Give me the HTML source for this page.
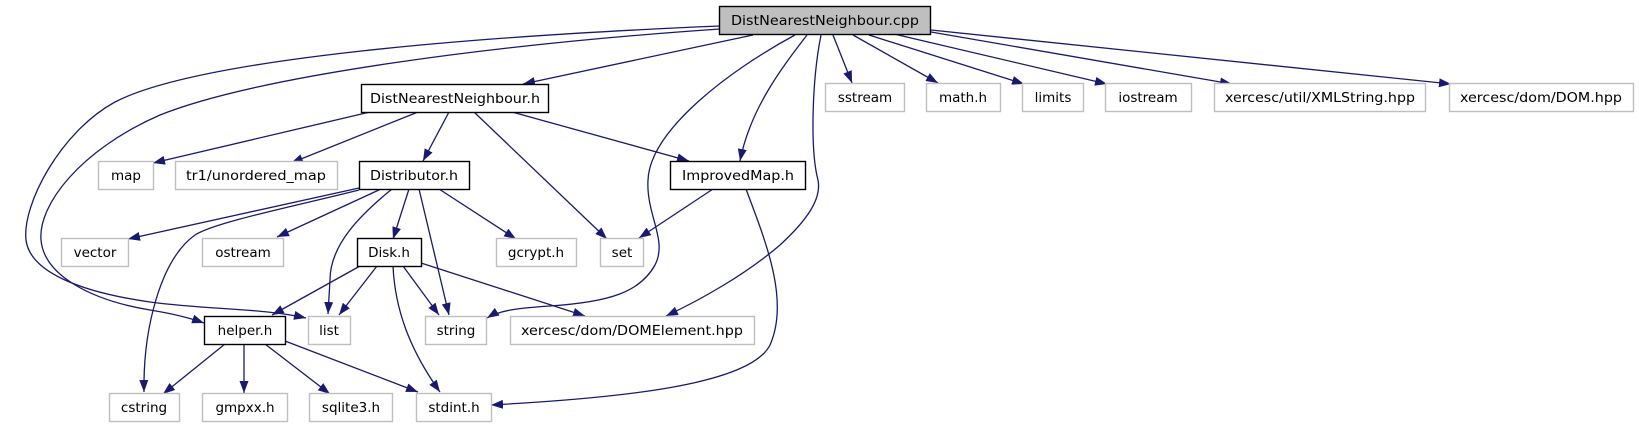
<!DOCTYPE html>
<html><head><meta charset="utf-8"><style>
html,body{margin:0;padding:0;background:#fff;}
svg{display:block;}
text{font-family:"DejaVu Sans","Liberation Sans",sans-serif;font-size:13.5px;fill:#000;}
.b{fill:#fff;stroke:#000;stroke-width:1.4;}
.g{fill:#fff;stroke:#bfbfbf;stroke-width:1.4;}
.e{fill:none;stroke:#191970;stroke-width:1.3;}
</style></head><body>
<svg width="1639" height="427" viewBox="0 0 1639 427" xmlns="http://www.w3.org/2000/svg">
<defs>
<marker id="a" viewBox="0 0 12 9" refX="12" refY="4.5" markerWidth="12" markerHeight="9" markerUnits="userSpaceOnUse" orient="auto">
<path d="M0,0 L12,4.5 L0,9 z" fill="#191970"/>
</marker>
</defs>
<g class="e" marker-end="url(#a)">
<path d="M753,35 L523,84"/>
<path d="M720,26 C480,36 200,58 115,102 C60,132 22,205 26,240 C30,272 80,292 150,302 C210,310 262,308 306,318"/>
<path d="M720,29 C500,44 260,75 160,115 C80,150 38,205 41,240 C44,275 90,300 150,310 C175,314 190,318 204,323"/>
<path d="M795,35 C730,70 650,130 648,180 C646,215 668,240 655,265 C640,292 610,302 550,306 C520,308 500,310 487,318"/>
<path d="M807,35 C780,70 750,110 740,161"/>
<path d="M821,35 C812,80 810,150 818,180 C822,200 805,222 780,245 C745,275 700,300 666,316"/>
<path d="M833,35 L852,83"/>
<path d="M853,35 L938,83"/>
<path d="M869,35 L1024,84"/>
<path d="M894,34 L1107,84"/>
<path d="M931,32 L1232,84"/>
<path d="M931,30 L1451,84"/>
<path d="M370,112 L153,163"/>
<path d="M418,112 L291,163"/>
<path d="M449,112 L423,161"/>
<path d="M474,112 L607,239"/>
<path d="M512,112 L689,161"/>
<path d="M713,189 L639,238"/>
<path d="M746,189 C765,240 790,300 770,345 C750,385 620,398 491,405"/>
<path d="M359,188 L128,239"/>
<path d="M359,190 C300,205 215,222 195,235 C160,260 143,330 144,392"/>
<path d="M381,189 L277,237"/>
<path d="M392,189 C360,215 330,245 330,280 L328,314"/>
<path d="M409,189 L393,239"/>
<path d="M419,189 L449,315"/>
<path d="M439,189 L516,239"/>
<path d="M360,266 L272,315"/>
<path d="M377,266 L339,315"/>
<path d="M403,266 L439,315"/>
<path d="M393,266 C395,310 410,350 440,392"/>
<path d="M421,263 L585,316"/>
<path d="M225,344 L163,394"/>
<path d="M244,344 L244,393"/>
<path d="M265,344 L330,394"/>
<path d="M285,341 L418,392"/>
</g>
<rect x="719.5" y="6.5" width="211" height="28" fill="#bfbfbf" stroke="#000" stroke-width="1.4"/>
<text x="825" y="25" text-anchor="middle" textLength="188" lengthAdjust="spacingAndGlyphs">DistNearestNeighbour.cpp</text>

<rect class="b" x="361.5" y="84.5" width="187" height="28"/>
<text x="455" y="103" text-anchor="middle" textLength="170" lengthAdjust="spacingAndGlyphs">DistNearestNeighbour.h</text>

<rect class="g" x="825.5" y="83.5" width="79" height="28"/><text x="865" y="102" text-anchor="middle">sstream</text>
<rect class="g" x="926.5" y="83.5" width="74" height="28"/><text x="963" y="102" text-anchor="middle">math.h</text>
<rect class="g" x="1022.5" y="83.5" width="61" height="28"/><text x="1053" y="102" text-anchor="middle">limits</text>
<rect class="g" x="1105.5" y="83.5" width="86" height="28"/><text x="1148" y="102" text-anchor="middle">iostream</text>
<rect class="g" x="1214.5" y="83.5" width="211" height="28"/><text x="1320" y="102" text-anchor="middle" textLength="190" lengthAdjust="spacingAndGlyphs">xercesc/util/XMLString.hpp</text>
<rect class="g" x="1449.5" y="83.5" width="184" height="28"/><text x="1541" y="102" text-anchor="middle" textLength="162" lengthAdjust="spacingAndGlyphs">xercesc/dom/DOM.hpp</text>

<rect class="g" x="98.5" y="161.5" width="55" height="28"/><text x="126" y="180" text-anchor="middle">map</text>
<rect class="g" x="175.5" y="161.5" width="162" height="28"/><text x="256" y="180" text-anchor="middle" textLength="140" lengthAdjust="spacingAndGlyphs">tr1/unordered_map</text>
<rect class="b" x="359.5" y="161.5" width="110" height="28"/><text x="414" y="180" text-anchor="middle" textLength="88" lengthAdjust="spacingAndGlyphs">Distributor.h</text>
<rect class="b" x="670.5" y="161.5" width="135" height="28"/><text x="738" y="180" text-anchor="middle" textLength="112" lengthAdjust="spacingAndGlyphs">ImprovedMap.h</text>

<rect class="g" x="61.5" y="238.5" width="67" height="28"/><text x="95" y="257" text-anchor="middle">vector</text>
<rect class="g" x="202.5" y="238.5" width="81" height="28"/><text x="243" y="257" text-anchor="middle">ostream</text>
<rect class="b" x="357.5" y="238.5" width="64" height="28"/><text x="389" y="257" text-anchor="middle">Disk.h</text>
<rect class="g" x="496.5" y="238.5" width="80" height="28"/><text x="536" y="257" text-anchor="middle">gcrypt.h</text>
<rect class="g" x="600.5" y="238.5" width="43" height="28"/><text x="622" y="257" text-anchor="middle">set</text>

<rect class="b" x="204.5" y="316.5" width="81" height="28"/><text x="245" y="335" text-anchor="middle">helper.h</text>
<rect class="g" x="308.5" y="316.5" width="42" height="28"/><text x="329" y="335" text-anchor="middle">list</text>
<rect class="g" x="425.5" y="316.5" width="61" height="28"/><text x="456" y="335" text-anchor="middle">string</text>
<rect class="g" x="510.5" y="316.5" width="244" height="28"/><text x="632" y="335" text-anchor="middle" textLength="222" lengthAdjust="spacingAndGlyphs">xercesc/dom/DOMElement.hpp</text>

<rect class="g" x="109.5" y="393.5" width="70" height="28"/><text x="144" y="412" text-anchor="middle">cstring</text>
<rect class="g" x="202.5" y="393.5" width="85" height="28"/><text x="245" y="412" text-anchor="middle">gmpxx.h</text>
<rect class="g" x="309.5" y="393.5" width="83" height="28"/><text x="351" y="412" text-anchor="middle">sqlite3.h</text>
<rect class="g" x="416.5" y="393.5" width="75" height="28"/><text x="454" y="412" text-anchor="middle">stdint.h</text>
</svg>
</body></html>
